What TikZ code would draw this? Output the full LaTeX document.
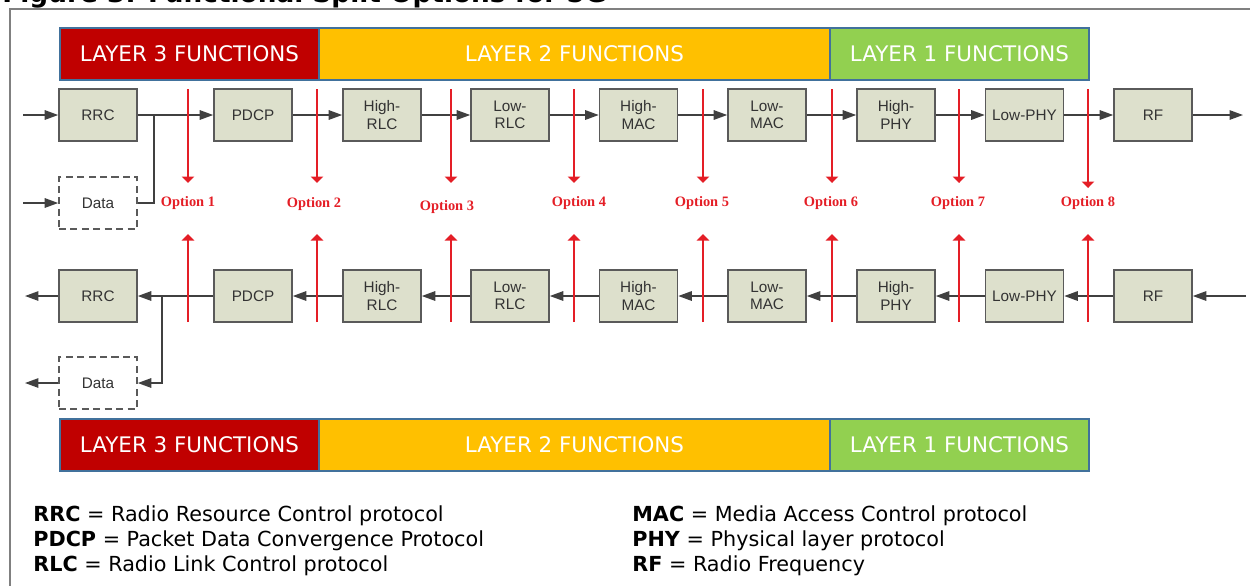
\documentclass[tikz,border=0pt]{standalone}
\usepackage{fontspec}
\setmainfont{DejaVu Sans}
\newfontfamily\arialfont{Liberation Sans}
\newfontfamily\timesfont{Liberation Serif}
\usetikzlibrary{arrows.meta}

\definecolor{framegray}{RGB}{128,128,128}
\definecolor{l3red}{RGB}{192,0,0}
\definecolor{l2orange}{RGB}{255,192,0}
\definecolor{l1green}{RGB}{146,208,80}
\definecolor{barline}{RGB}{65,113,156}
\definecolor{blkfill}{RGB}{221,224,204}
\definecolor{blkline}{RGB}{90,90,90}
\definecolor{optred}{RGB}{228,30,38}

\begin{document}
\begin{tikzpicture}[x=0.02cm,y=-0.02cm]
\tikzstyle{layer}=[draw=barline,line width=0.6pt,minimum height=1.04cm,inner sep=0pt,text=white,font=\fontsize{12.2}{14}\selectfont]
\tikzstyle{blk}=[draw=blkline,line width=0.9pt,fill=blkfill,minimum width=1.56cm,minimum height=1.04cm,inner sep=0pt,align=center,text=black!80,font=\arialfont\fontsize{8.7}{9.8}\selectfont]
\tikzstyle{datablk}=[blk,fill=white,dashed,dash pattern=on 4pt off 2.5pt]
\tikzstyle{flow}=[draw=black!75,line width=0.85pt,-{Triangle[length=0.27cm,width=0.19cm]}]
\tikzstyle{wire}=[draw=black!75,line width=0.85pt]
\tikzstyle{split}=[draw=optred,line width=1.1pt,-{Triangle[length=0.13cm,width=0.25cm]}]
\tikzstyle{optlabel}=[text=optred,inner sep=0pt,font=\timesfont\bfseries\fontsize{8.2}{9}\selectfont]
\tikzstyle{legend}=[anchor=base west,inner sep=0pt,font=\fontsize{11.8}{13}\selectfont]
\useasboundingbox (0,0) rectangle (1250,586);

% title, cut at the top
\begin{scope}
\clip (0,0) rectangle (1250,8);
\node[anchor=base west,inner sep=0pt,font=\bfseries\fontsize{15}{17}\selectfont] (title) at (2,2) {Figure 3: Functional Split Options for 5G};
\end{scope}
\draw[draw=framegray,line width=1.1pt] (1250,9) -- (10,9) -- (10,586);

% layer bars
\node[layer,fill=l3red,minimum width=5.18cm] (l3top) at (189.5,54) {LAYER 3 FUNCTIONS};
\node[layer,fill=l2orange,minimum width=10.22cm] (l2top) at (574.5,54) {LAYER 2 FUNCTIONS};
\node[layer,fill=l1green,minimum width=5.18cm] (l1top) at (959.5,54) {LAYER 1 FUNCTIONS};
\node[layer,fill=l3red,minimum width=5.18cm] (l3bot) at (189.5,445) {LAYER 3 FUNCTIONS};
\node[layer,fill=l2orange,minimum width=10.22cm] (l2bot) at (574.5,445) {LAYER 2 FUNCTIONS};
\node[layer,fill=l1green,minimum width=5.18cm] (l1bot) at (959.5,445) {LAYER 1 FUNCTIONS};

% top chain
\node[blk] (rrc) at (98,115) {RRC};
\node[blk] (pdcp) at (253,115) {PDCP};
\node[blk] (hrlc) at (382,115) {High-\\RLC};
\node[blk] (lrlc) at (510,115) {Low-\\RLC};
\node[blk] (hmac) at (638.5,115) {High-\\MAC};
\node[blk] (lmac) at (767,115) {Low-\\MAC};
\node[blk] (hphy) at (896,115) {High-\\PHY};
\node[blk] (lphy) at (1024.5,115) {Low-PHY};
\node[blk] (rf) at (1153,115) {RF};
\node[datablk] (data) at (98,203) {Data};
\coordinate (inrrc) at (23,115);
\coordinate (indata) at (23,203);
\coordinate (jtop) at (154,115);
\coordinate (outrf) at (1243,115);

\draw[flow] (inrrc) -- (rrc);
\draw[flow] (indata) -- (data);
\draw[wire] (data.east) -| (jtop);
\draw[flow] (rrc) -- (pdcp);
\draw[flow] (pdcp) -- (hrlc);
\draw[flow] (hrlc) -- (lrlc);
\draw[flow] (lrlc) -- (hmac);
\draw[flow] (hmac) -- (lmac);
\draw[flow] (lmac) -- (hphy);
\draw[flow] (hphy) -- (lphy);
\draw[flow] (lphy) -- (rf);
\draw[flow] (rf) -- (outrf);

% bottom chain
\node[blk] (rrcb) at (98,296) {RRC};
\node[blk] (pdcpb) at (253,296) {PDCP};
\node[blk] (hrlcb) at (382,296) {High-\\RLC};
\node[blk] (lrlcb) at (510,296) {Low-\\RLC};
\node[blk] (hmacb) at (638.5,296) {High-\\MAC};
\node[blk] (lmacb) at (767,296) {Low-\\MAC};
\node[blk] (hphyb) at (896,296) {High-\\PHY};
\node[blk] (lphyb) at (1024.5,296) {Low-PHY};
\node[blk] (rfb) at (1153,296) {RF};
\node[datablk] (datab) at (98,383) {Data};
\coordinate (outrrc) at (25,296);
\coordinate (outdata) at (25,383);
\coordinate (jbot) at (162,296);
\coordinate (inrf) at (1246,296);

\draw[flow] (inrf) -- (rfb);
\draw[flow] (rfb) -- (lphyb);
\draw[flow] (lphyb) -- (hphyb);
\draw[flow] (hphyb) -- (lmacb);
\draw[flow] (lmacb) -- (hmacb);
\draw[flow] (hmacb) -- (lrlcb);
\draw[flow] (lrlcb) -- (hrlcb);
\draw[flow] (hrlcb) -- (pdcpb);
\draw[flow] (pdcpb) -- (rrcb);
\draw[flow] (jbot) |- (datab);
\draw[flow] (rrcb) -- (outrrc);
\draw[flow] (datab) -- (outdata);

% split options
\foreach \ax/\tip/\lx/\ly/\n in {188/183/188/203/1,317/183/314/204/2,451/183/447/207/3,574/183/579/203/4,703/183/702/203/5,832/183/831/203/6,959/183/958/203/7,1088/188/1088/203/8}{
  \node[optlabel] (opt\n) at (\lx,\ly) {Option \n};
  \draw[split] (\ax,89) -- (\ax,\tip);
  \draw[split] (\ax,322) -- (\ax,234);
}

% legend
\node[legend] (legrrc) at (33,521) {\textbf{RRC} = Radio Resource Control protocol};
\node[legend] (legpdcp) at (33,546) {\textbf{PDCP} = Packet Data Convergence Protocol};
\node[legend] (legrlc) at (33,571) {\textbf{RLC} = Radio Link Control protocol};
\node[legend] (legmac) at (632,521) {\textbf{MAC} = Media Access Control protocol};
\node[legend] (legphy) at (632,546) {\textbf{PHY} = Physical layer protocol};
\node[legend] (legrf) at (632,571) {\textbf{RF} = Radio Frequency};
\end{tikzpicture}
\end{document}
